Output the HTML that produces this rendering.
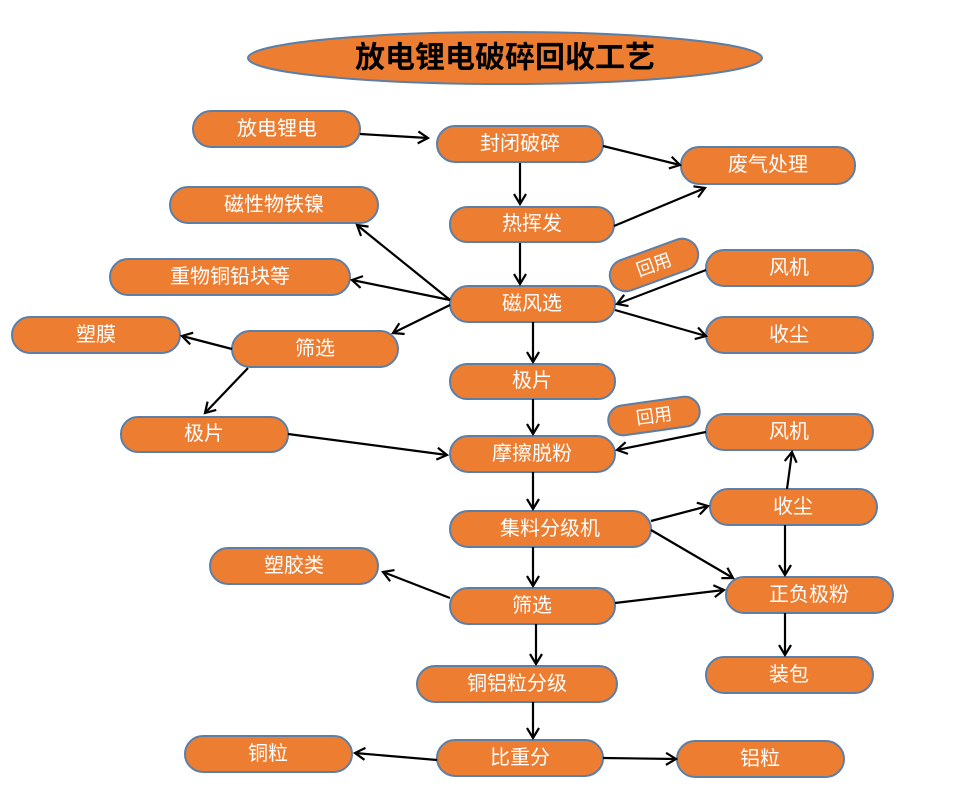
<!DOCTYPE html>
<html><head><meta charset="utf-8"><style>
html,body{margin:0;padding:0;background:#fff;}
svg{display:block;}
text{font-family:"Liberation Sans","Noto Sans CJK SC",sans-serif;fill:#fff;font-size:20px;text-anchor:middle;dominant-baseline:central;}
.n{fill:#ED7D31;stroke:#5B7FA6;stroke-width:2;}
.a{stroke:#000;stroke-width:2.2;fill:none;marker-end:url(#ar);}
</style></head><body>
<svg width="977" height="789" viewBox="0 0 977 789">
<defs><marker id="ar" markerWidth="14" markerHeight="14" refX="11" refY="7" orient="auto" markerUnits="userSpaceOnUse"><path d="M1,1 L11,7 L1,13" fill="none" stroke="#000" stroke-width="2.2"/></marker></defs>
<ellipse class="n" cx="505" cy="58" rx="257" ry="26"/>
<text x="505" y="58" style="fill:#000;font-size:30px;font-weight:bold">放电锂电破碎回收工艺</text>
<g>
<rect class="n" x="193" y="111" width="167" height="36" rx="18"/><text x="277" y="129">放电锂电</text>
<rect class="n" x="437" y="126" width="166" height="36" rx="18"/><text x="520" y="144">封闭破碎</text>
<rect class="n" x="681" y="147" width="174" height="37" rx="18"/><text x="768" y="165">废气处理</text>
<rect class="n" x="450" y="207" width="164" height="35" rx="17"/><text x="532" y="224">热挥发</text>
<rect class="n" x="170" y="187" width="208" height="36" rx="18"/><text x="274" y="205">磁性物铁镍</text>
<rect class="n" x="110" y="259" width="240" height="36" rx="18"/><text x="230" y="277">重物铜铅块等</text>
<rect class="n" x="706" y="250" width="167" height="36" rx="18"/><text x="789" y="268">风机</text>
<rect class="n" x="450" y="286" width="165" height="36" rx="18"/><text x="532" y="304">磁风选</text>
<rect class="n" x="706" y="317" width="167" height="36" rx="18"/><text x="789" y="335">收尘</text>
<rect class="n" x="12" y="317" width="168" height="36" rx="18"/><text x="96" y="335">塑膜</text>
<rect class="n" x="232" y="331" width="166" height="36" rx="18"/><text x="315" y="349">筛选</text>
<rect class="n" x="450" y="364" width="165" height="35" rx="17"/><text x="532" y="381">极片</text>
<rect class="n" x="121" y="417" width="167" height="35" rx="17"/><text x="204" y="434">极片</text>
<rect class="n" x="706" y="414" width="167" height="36" rx="18"/><text x="789" y="432">风机</text>
<rect class="n" x="450" y="436" width="165" height="36" rx="18"/><text x="532" y="454">摩擦脱粉</text>
<rect class="n" x="710" y="489" width="167" height="36" rx="18"/><text x="793" y="507">收尘</text>
<rect class="n" x="450" y="511" width="201" height="36" rx="18"/><text x="550" y="529">集料分级机</text>
<rect class="n" x="210" y="548" width="168" height="36" rx="18"/><text x="294" y="566">塑胶类</text>
<rect class="n" x="726" y="577" width="167" height="36" rx="18"/><text x="809" y="595">正负极粉</text>
<rect class="n" x="450" y="588" width="165" height="36" rx="18"/><text x="532" y="606">筛选</text>
<rect class="n" x="706" y="657" width="167" height="36" rx="18"/><text x="789" y="675">装包</text>
<rect class="n" x="417" y="666" width="200" height="36" rx="18"/><text x="517" y="684">铜铝粒分级</text>
<rect class="n" x="185" y="736" width="167" height="36" rx="18"/><text x="268" y="754">铜粒</text>
<rect class="n" x="437" y="740" width="166" height="36" rx="18"/><text x="520" y="758">比重分</text>
<rect class="n" x="677" y="741" width="167" height="36" rx="18"/><text x="760" y="759">铝粒</text>
<g transform="translate(654,265) rotate(-20)"><rect class="n" x="-46" y="-16" width="92" height="32" rx="16"/><text x="0" y="0" style="font-size:18px">回用</text></g>
<g transform="translate(654,416) rotate(-8)"><rect class="n" x="-46" y="-15" width="92" height="30" rx="15"/><text x="0" y="0" style="font-size:18px">回用</text></g>
</g>
<g>
<line class="a" x1="360" y1="134" x2="428" y2="138"/>
<line class="a" x1="603" y1="146" x2="680" y2="165"/>
<line class="a" x1="614" y1="226" x2="705" y2="188"/>
<line class="a" x1="520" y1="163" x2="520" y2="204"/>
<line class="a" x1="520" y1="243" x2="520" y2="284"/>
<line class="a" x1="450" y1="300" x2="357" y2="225"/>
<line class="a" x1="450" y1="300" x2="352" y2="280"/>
<line class="a" x1="450" y1="305" x2="393" y2="333"/>
<line class="a" x1="706" y1="270" x2="617" y2="304"/>
<line class="a" x1="615" y1="310" x2="706" y2="336"/>
<line class="a" x1="533" y1="322" x2="533" y2="362"/>
<line class="a" x1="232" y1="349" x2="182" y2="336"/>
<line class="a" x1="248" y1="368" x2="205" y2="413"/>
<line class="a" x1="288" y1="434" x2="447" y2="455"/>
<line class="a" x1="533" y1="399" x2="533" y2="434"/>
<line class="a" x1="706" y1="432" x2="617" y2="450"/>
<line class="a" x1="533" y1="472" x2="533" y2="509"/>
<line class="a" x1="651" y1="521" x2="708" y2="506"/>
<line class="a" x1="651" y1="530" x2="733" y2="578"/>
<line class="a" x1="787" y1="489" x2="792" y2="452"/>
<line class="a" x1="785" y1="525" x2="785" y2="575"/>
<line class="a" x1="615" y1="603" x2="724" y2="590"/>
<line class="a" x1="450" y1="598" x2="383" y2="572"/>
<line class="a" x1="533" y1="547" x2="533" y2="586"/>
<line class="a" x1="536" y1="624" x2="536" y2="664"/>
<line class="a" x1="533" y1="702" x2="533" y2="738"/>
<line class="a" x1="437" y1="760" x2="355" y2="753"/>
<line class="a" x1="603" y1="758" x2="676" y2="759"/>
<line class="a" x1="785" y1="613" x2="785" y2="655"/>
</g>
</svg>
</body></html>
